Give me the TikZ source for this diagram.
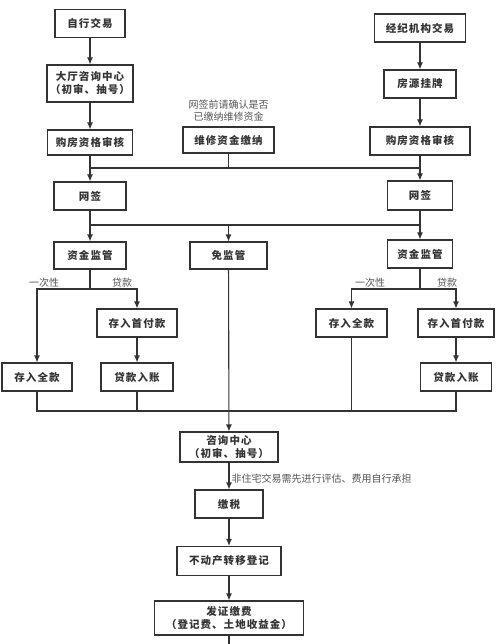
\documentclass[tikz,border=0pt]{standalone}
\usepackage{xcolor}
\usepackage{fontspec}
\usepackage{tikz}
\usetikzlibrary{arrows.meta}
\setmainfont{Noto Sans CJK SC}
\newfontfamily\boxfont[LetterSpace=10]{Noto Sans CJK SC}
\definecolor{ln}{HTML}{333333}
\definecolor{nt}{HTML}{555555}

\begin{document}
\begin{tikzpicture}[x=1pt, y=-1pt, node distance=57pt, inner sep=0pt, minimum height=28pt, line width=1.1pt, color=ln, >={Latex[length=7pt,width=6pt]},
	main/.style = {draw, rectangle, align=center, font=\boxfont\bfseries\fontsize{10.5}{13}\selectfont},
	note/.style = {align=center, text=nt, font=\fontsize{10}{11.5}\selectfont}]
	\useasboundingbox (0,0) rectangle (500,644);
	\node[main, minimum width=70pt] (1) at (90,23.5) {自行交易};
	\node[main, minimum width=86pt, minimum height=37pt] (2) at (90,83.5) {大厅咨询中心\\（初审、抽号）};
	\node[main, minimum width=85pt, minimum height=25pt] (3) at (90,142.5) {购房资格审核};
	\node[main, minimum width=72pt] (4) at (90,196) {网签};
	\node[main, minimum width=72pt, minimum height=27pt] (5) at (90,255.5) {资金监管};
	\node[main, minimum width=77pt, minimum height=27pt] (6) at (228.5,255.5) {免监管};
	\node[main, minimum width=80pt] (7) at (137,323) {存入首付款};
	\node[main, minimum width=70pt] (8) at (37,377) {存入全款};
	\node[main, minimum width=72pt] (9) at (137,377) {贷款入账};
	\node[main, minimum width=91pt] (10) at (420,28) {经纪机构交易};
	\node[main, minimum width=72pt] (11) at (420,84) {房源挂牌};
	\node[main, minimum width=100pt] (12) at (420,141) {购房资格审核};
	\node[main, minimum width=65pt, minimum height=29pt] (13) at (420,195.5) {网签};
	\node[main, minimum width=65pt] (14) at (420,254) {资金监管};
	\node[main, minimum width=71pt] (15) at (351.5,323) {存入全款};
	\node[main, minimum width=76pt] (16) at (456,323) {存入首付款};
	\node[main, minimum width=71pt] (17) at (456,377) {贷款入账};
	\node[main, minimum width=91pt, minimum height=26pt] (18) at (228.5,140) {维修资金缴纳};
	\node[main, minimum width=98pt, minimum height=30pt] (19) at (229,447) {咨询中心\\（初审、抽号）};
	\node[main, minimum width=68pt] (20) [below of=19] {缴税};
	\node[main, minimum width=104pt, minimum height=29pt] (21) [below of=20] {不动产转移登记};
	\node[main, minimum width=149pt, minimum height=34pt] (22) [below of=21] {发证缴费\\（登记费、土地收益金）};
	\node[note] (n1) at (228.5,110.5) {网签前请确认是否\\已缴纳维修资金};
	\node[note] (n2) at (44,283) {一次性};
	\node[note] (n3) at (122,283) {贷款};
	\node[note] (n4) at (370,283) {一次性};
	\node[note] (n5) at (447,283) {贷款};
	\node[note, anchor=west] (n6) at (231,479) {非住宅交易需先进行评估、费用自行承担};
	\coordinate (c1) at (90,168);
	\coordinate (c2) at (420,168);
	\coordinate (c3) at (90,225);
	\coordinate (c4) at (420,225);
	\coordinate (c5) at (90,289);
	\coordinate (c6) at (37,411);
	\coordinate (c7) at (456,411);
	\coordinate (c8) at (420,289);
	\coordinate (c9) at (229,644);
	\draw[->] (1) -- (2);
	\draw[->] (2) -- (3);
	\draw[->] (3) -- (4);
	\draw[->] (10) -- (11);
	\draw[->] (11) -- (12);
	\draw[->] (12) -- (13);
	\draw (c1) -- (c2);
	\draw (18) -- (18 |- c1);
	\draw[->] (4) -- (5);
	\draw[->] (13) -- (14);
	\draw (c3) -- (c4);
	\draw[->] (6 |- c3) -- (6);
	\draw (5) -- (c5);
	\draw[->] (c5) -| (8);
	\draw[->] (c5) -| (7);
	\draw[->] (7) -- (9);
	\draw (14) -- (c8);
	\draw[->] (c8) -| (15);
	\draw[->] (c8) -| (16);
	\draw[->] (16) -- (17);
	\draw (8) -- (c6) -- (c7) -- (17);
	\draw (9) -- (9 |- c6);
	\draw (15) -- (15 |- c6);
	\draw[->] (6) -- (19);
	\draw[->] (19) -- (20);
	\draw[->] (20) -- (21);
	\draw[->] (21) -- (22);
	\draw (22) -- (c9);
\end{tikzpicture}
\end{document}
